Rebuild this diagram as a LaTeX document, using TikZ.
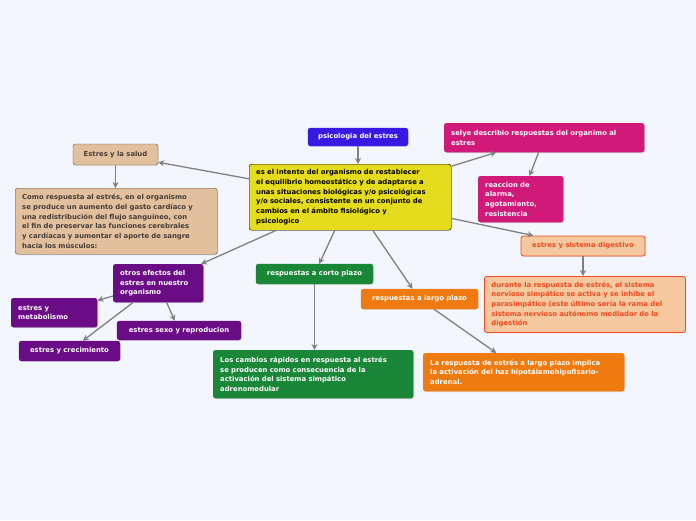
\documentclass[tikz,border=0pt]{standalone}
\usepackage{fontspec}
\setmainfont{DejaVu Sans}
\usepackage{xcolor}
\usepackage{tikz}
\usetikzlibrary{arrows.meta,shadows}

\definecolor{bgcol}{RGB}{243,246,254}
\definecolor{bluecol}{RGB}{55,25,225}
\definecolor{yelcol}{RGB}{230,220,30}
\definecolor{magcol}{RGB}{208,25,120}
\definecolor{peachfill}{RGB}{246,200,160}
\definecolor{peachline}{RGB}{240,75,30}
\definecolor{tanfill}{RGB}{226,192,158}
\definecolor{tanline}{RGB}{90,80,70}
\definecolor{tantext}{RGB}{70,60,55}
\definecolor{purcol}{RGB}{106,12,134}
\definecolor{grncol}{RGB}{26,134,55}
\definecolor{orgcol}{RGB}{238,122,16}
\definecolor{arrcol}{RGB}{128,128,128}

\begin{document}
\begin{tikzpicture}[
    x=1pt, y=-1pt,
    font=\fontsize{6.85}{9.7}\selectfont\bfseries,
    box/.style={rectangle, rounded corners=2.5pt, inner xsep=7pt, inner ysep=3pt,
                drop shadow={shadow xshift=0.8pt, shadow yshift=-0.8pt, fill=black!18}},
    multi/.style={box, align=left, anchor=north west},
    blue/.style={box, fill=bluecol, draw=bluecol, text=white},
    yel/.style={multi, fill=yelcol, draw=black, text=black},
    mag/.style={box, fill=magcol, draw=magcol, text=white},
    peach/.style={box, fill=peachfill, draw=peachline, text=peachline, thick},
    tan/.style={box, fill=tanfill, draw=tanline, text=tantext},
    pur/.style={box, fill=purcol, draw=purcol, text=white},
    grn/.style={box, fill=grncol, draw=grncol, text=white},
    org/.style={box, fill=orgcol, draw=orgcol, text=white},
    arr/.style={-{Stealth[length=6pt,width=6pt]}, line width=1.3pt, arrcol}
]

\fill[bgcol] (0,0) rectangle (696,520);
\useasboundingbox (0,0) rectangle (696,520);

% center
\node[yel, text width=188, minimum height=66] (main) at (249,164)
  {es el intento del organismo de restablecer\\
   el equilibrio homeostático y de adaptarse a\\
   unas situaciones biológicas y/o psicológicas\\
   y/o sociales, consistente en un conjunto de\\
   cambios en el ámbito fisiológico y\\
   psicologico};

\node[blue, minimum width=100, minimum height=18] (psico) at (358,137) {psicologia del estres};

% selye
\node[mag, multi, text width=186, minimum height=29] (selye) at (444,123)
  {selye describio respuestas del organimo al\\estres};
\node[mag, multi, text width=71, minimum height=46] (alarma) at (478,176)
  {reaccion de\\alarma,\\agotamiento,\\resistencia};

% digestivo
\node[peach, minimum width=124, minimum height=20] (digest) at (583,246) {estres y sistema digestivo};
\node[peach, multi, text width=187, minimum height=56] (simpat) at (484,276)
  {durante la respuesta de estrés, el sistema\\
   nervioso simpático se activa y se inhibe el\\
   parasimpático (este último sería la rama del\\
   sistema nervioso autónomo mediador de la\\
   digestión};

% salud
\node[tan, minimum width=85, minimum height=21] (salud) at (115.5,154.5) {Estres y la salud};
\node[tan, multi, text width=188, minimum height=66] (gasto) at (15,188)
  {Como respuesta al estrés, en el organismo\\
   se produce un aumento del gasto cardíaco y\\
   una redistribución del flujo sanguíneo, con\\
   el fin de preservar las funciones cerebrales\\
   y cardíacas y aumentar el aporte de sangre\\
   hacia los músculos:};

% otros efectos
\node[pur, multi, text width=76, minimum height=38] (otros) at (113,264)
  {otros efectos del\\estres en nuestro\\organismo};
\node[pur, multi, text width=72, minimum height=29] (metab) at (11,298)
  {estres y\\metabolismo};
\node[pur, minimum width=124, minimum height=19] (sexo) at (179,330.5) {estres sexo y reproducion};
\node[pur, minimum width=101, minimum height=20] (crec) at (69.5,351) {estres y crecimiento};

% corto plazo
\node[grn, minimum width=117, minimum height=20] (corto) at (314.5,274) {respuestas a corto plazo};
\node[grn, multi, text width=186, minimum height=48] (rapidos) at (213,350)
  {Los cambios rápidos en respuesta al estrés\\
   se producen como consecuencia de la\\
   activación del sistema simpático\\
   adrenomedular};

% largo plazo
\node[org, minimum width=117, minimum height=20] (largo) at (419.5,299) {respuestas a largo plazo};
\node[org, multi, text width=187, minimum height=38] (hipo) at (423,353)
  {La respuesta de estrés a largo plazo implica\\
   la activación del haz hipotálamohipofisario-\\
   adrenal.};

\draw[arr] (psico) -- (psico |- main.north);
\draw[arr] (main) -- (salud);
\draw[arr] (main) -- (otros);
\draw[arr] (main) -- (corto);
\draw[arr] (main) -- (largo);
\draw[arr] (main) -- (selye);
\draw[arr] (main) -- (digest);
\draw[arr] (selye) -- (alarma);
\draw[arr] (salud) -- (salud |- gasto.north);
\draw[arr] (digest) -- (digest |- simpat.north);
\draw[arr] (otros) -- (metab);
\draw[arr] (otros) -- (sexo);
\draw[arr] (otros) -- (crec);
\draw[arr] (corto) -- (corto |- rapidos.north);
\draw[arr] (largo) -- (hipo);

\end{tikzpicture}
\end{document}
